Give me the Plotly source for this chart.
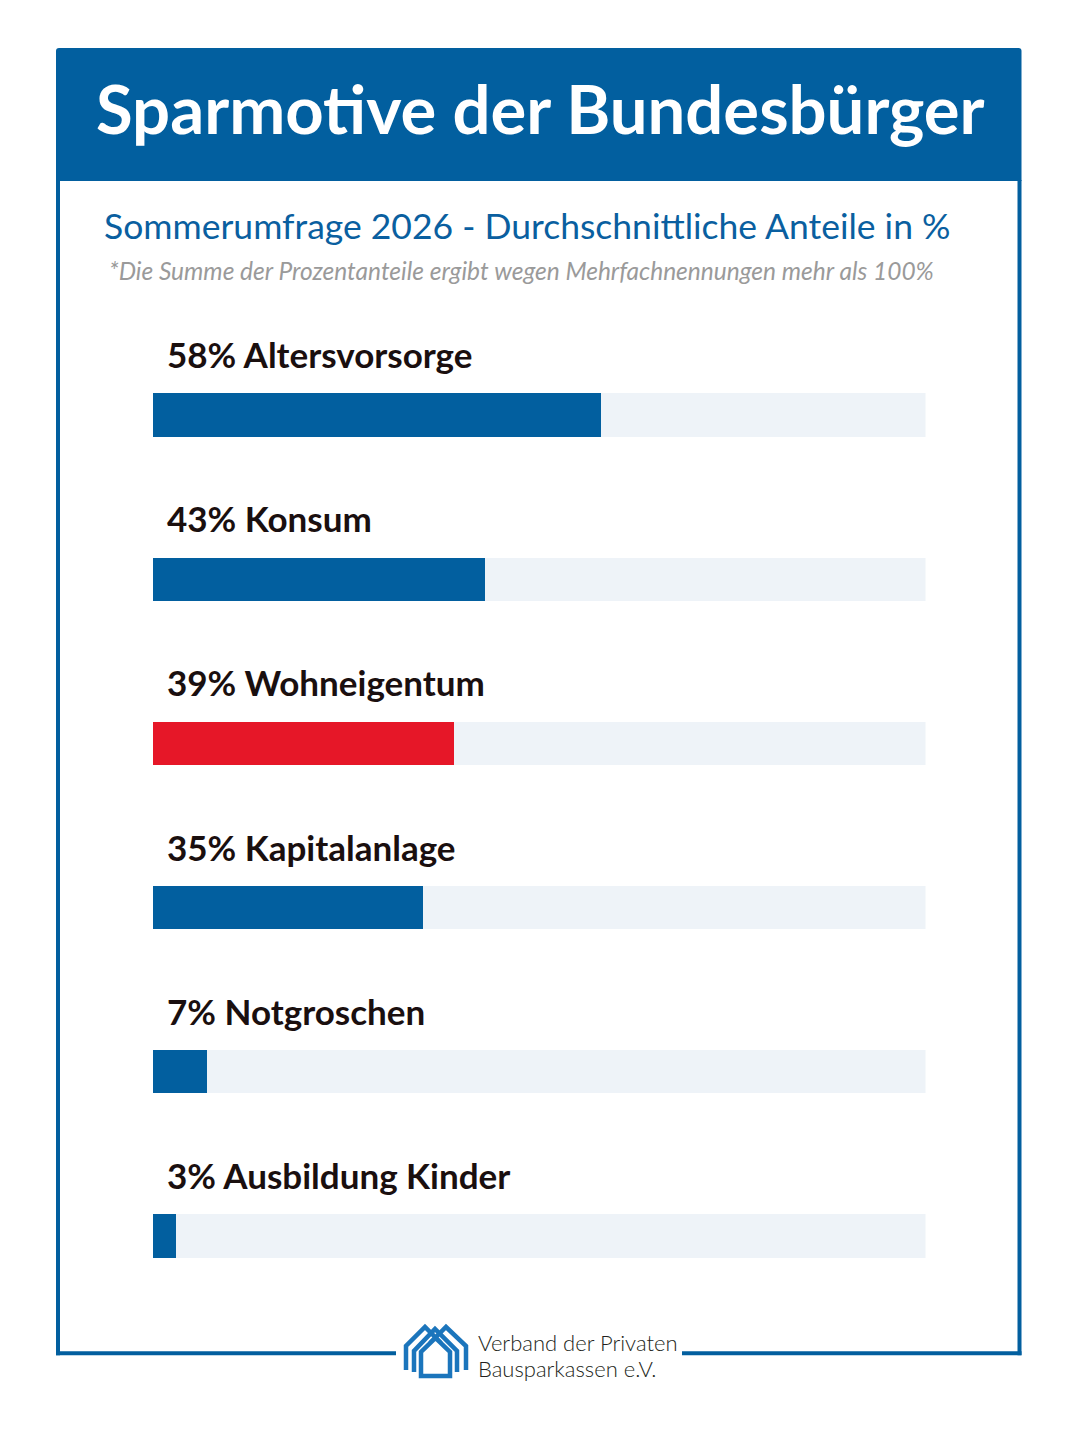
import plotly.graph_objects as go

W, H = 1078, 1430
OFF = 8  # page body margin offset

categories = ["Altersvorsorge", "Konsum", "Wohneigentum", "Kapitalanlage",
              "Notgroschen", "Ausbildung Kinder"]
values = [58, 43, 39, 35, 7, 3]
highlight = "Wohneigentum"
track_max = 100

title = "Sparmotive der Bundesbürger"
subtitle = "Sommerumfrage 2026 - Durchschnittliche Anteile in %"
footnote = "*Die Summe der Prozentanteile ergibt wegen Mehrfachnennungen mehr als 100%"
logo_lines = ["Verband der Privaten", "Bausparkassen e.V."]

BLUE = "#025F9F"
RED = "#E61728"
TRACK = "#EEF3F8"
LOGO_BLUE = "#1B75BC"
FONT = "Lato"


def px(x):
    return (x - OFF) / W


def py(y):
    return 1 - (y - OFF) / H


ypos = list(range(len(categories)))
bar_colors = [RED if c == highlight else BLUE for c in categories]

fig = go.Figure()
fig.add_trace(go.Bar(
    x=[track_max] * len(categories), y=ypos, orientation="h",
    marker=dict(color=TRACK, line=dict(width=0)), width=0.262,
    hoverinfo="skip", showlegend=False))
fig.add_trace(go.Bar(
    x=values, y=ypos, orientation="h",
    marker=dict(color=bar_colors, line=dict(width=0)), width=0.262,
    customdata=categories, hovertemplate="%{customdata}: %{x}%<extra></extra>",
    showlegend=False))

annotations = []
for i, (c, v) in enumerate(zip(categories, values)):
    annotations.append(dict(
        x=px(165), xref="paper", y=i, yref="y", yshift=61,
        text=f"<b>{v}% {c}</b>", showarrow=False, xanchor="left", yanchor="middle",
        font=dict(family=FONT, size=35, color="#1A0F0F")))

annotations += [
    dict(x=px(540), y=py(108), xref="paper", yref="paper", text=f"<b>{title}</b>",
         showarrow=False, xanchor="center", yanchor="middle",
         font=dict(family=FONT, size=67, color="white")),
    dict(x=px(527), y=py(225), xref="paper", yref="paper", text=subtitle,
         showarrow=False, xanchor="center", yanchor="middle",
         font=dict(family=FONT, size=35.5, color="#0A5FA0")),
    dict(x=px(521), y=py(270), xref="paper", yref="paper", text=f"<i>{footnote}</i>",
         showarrow=False, xanchor="center", yanchor="middle",
         font=dict(family=FONT, size=24.5, color="#9A9A9A")),
    dict(x=px(476), y=py(1342), xref="paper", yref="paper", text=logo_lines[0],
         showarrow=False, xanchor="left", yanchor="middle",
         font=dict(family=FONT, size=22, color="#231F20", weight=300)),
    dict(x=px(476), y=py(1368), xref="paper", yref="paper", text=logo_lines[1],
         showarrow=False, xanchor="left", yanchor="middle",
         font=dict(family=FONT, size=22, color="#231F20", weight=300)),
]


def path(points, close=False):
    s = "M " + " L ".join(f"{px(x)},{py(y)}" for x, y in points)
    return s + (" Z" if close else "")


shapes = []
# header box with slightly rounded top corners
r = 3
hdr = (f"M {px(56)},{py(181)} L {px(56)},{py(48 + r)} Q {px(56)},{py(48)} {px(56 + r)},{py(48)} "
       f"L {px(1021.5 - r)},{py(48)} Q {px(1021.5)},{py(48)} {px(1021.5)},{py(48 + r)} "
       f"L {px(1021.5)},{py(181)} Z")
shapes.append(dict(type="path", xref="paper", yref="paper", path=hdr,
                   fillcolor=BLUE, line=dict(width=0), layer="below"))
frame_line = dict(color=BLUE, width=4)
shapes += [
    dict(type="line", xref="paper", yref="paper", x0=px(58), x1=px(58), y0=py(180), y1=py(1355.3),
         line=frame_line),
    dict(type="line", xref="paper", yref="paper", x0=px(1019.5), x1=px(1019.5), y0=py(180), y1=py(1355.3),
         line=frame_line),
    dict(type="line", xref="paper", yref="paper", x0=px(56), x1=px(396), y0=py(1353.3), y1=py(1353.3),
         line=frame_line),
    dict(type="line", xref="paper", yref="paper", x0=px(682), x1=px(1021.5), y0=py(1353.3), y1=py(1353.3),
         line=frame_line),
]
# logo icon
logo_line = dict(color=LOGO_BLUE, width=4.5)
for pts, close, fill in [
    ([(406, 1370), (406, 1346), (425, 1327), (441, 1343)], False, None),
    ([(466, 1370), (466, 1346), (446, 1327), (430, 1343)], False, None),
    ([(414, 1372), (414, 1351), (435, 1329), (457, 1351), (457, 1372)], False, None),
    ([(421, 1376), (421, 1352), (435.5, 1338), (450, 1352), (450, 1376)], True, "white"),
]:
    shapes.append(dict(type="path", xref="paper", yref="paper", path=path(pts, close),
                       line=logo_line, fillcolor=fill if fill else "rgba(0,0,0,0)"))

# y axis mapping: bar i centred at page pixel 415 + 164.2*i
bar0, step = 415 - OFF, 164.2
fig.update_layout(
    width=W, height=H, margin=dict(l=0, r=0, t=0, b=0),
    paper_bgcolor="white", plot_bgcolor="white",
    barmode="overlay", bargap=0,
    xaxis=dict(range=[0, track_max], domain=[px(153), px(925.5)], visible=False, fixedrange=True),
    yaxis=dict(range=[(H - bar0) / step, -bar0 / step], domain=[0, 1], visible=False, fixedrange=True),
    annotations=annotations, shapes=shapes,
)

fig.write_html("out.html")
